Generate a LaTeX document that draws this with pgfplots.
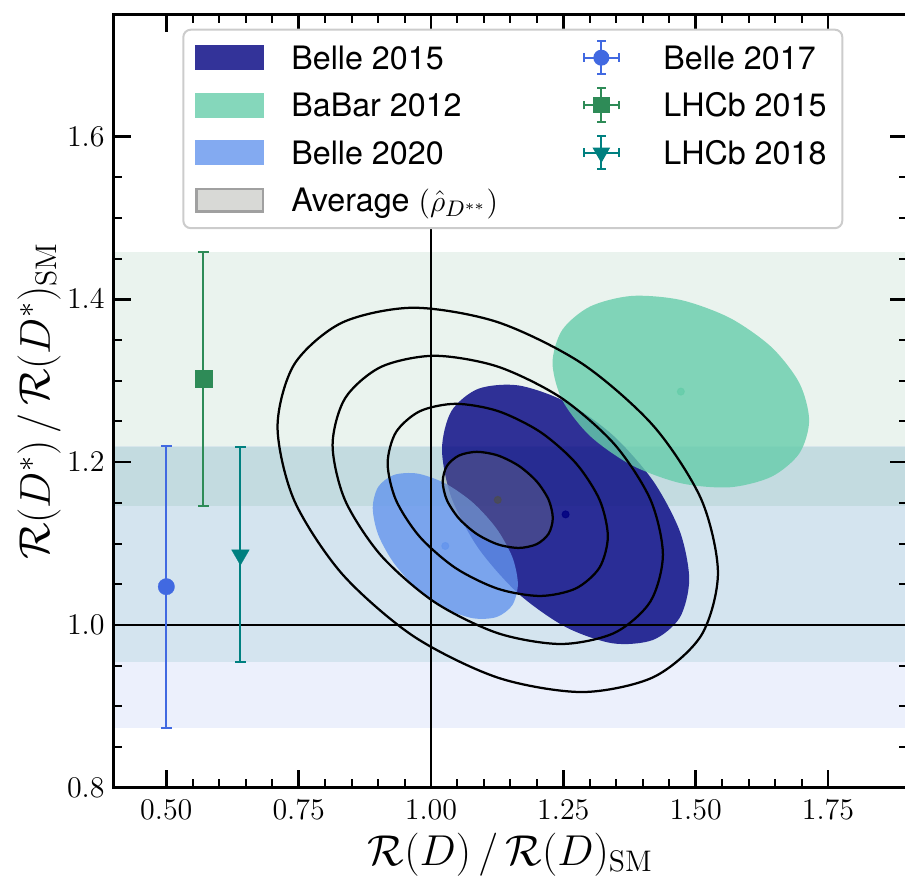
\documentclass[border=0pt]{standalone}
\usepackage{fontspec}
\setsansfont{TeX Gyre Heros}
\usepackage{pgfplots}
\pgfplotsset{compat=1.18}
\definecolor{navyc}{RGB}{0,0,128}
\definecolor{aquac}{RGB}{102,205,170}
\definecolor{cornc}{RGB}{100,149,237}
\definecolor{royalc}{RGB}{65,105,225}
\definecolor{seac}{RGB}{46,139,87}
\definecolor{tealc}{RGB}{0,128,128}
\definecolor{legnavy}{RGB}{51,51,153}
\definecolor{legaqua}{RGB}{133,215,187}
\definecolor{legcorn}{RGB}{131,170,241}
\definecolor{legavg}{RGB}{216,217,214}
\definecolor{legavgedge}{RGB}{160,160,160}
\begin{document}
\begin{tikzpicture}
\begin{axis}[
  scale only axis, width=317.6pt, height=309.4pt,
  xmin=0.4, xmax=1.9, ymin=0.8, ymax=1.75,
  xtick={0.5,0.75,1,1.25,1.5,1.75},
  ytick={0.8,1.0,1.2,1.4,1.6},
  minor x tick num=4, minor y tick num=3,
  x tick label style={/pgf/number format/fixed, /pgf/number format/fixed zerofill, /pgf/number format/precision=2, yshift=-1.6pt},
  y tick label style={/pgf/number format/fixed, /pgf/number format/fixed zerofill, /pgf/number format/precision=1},
  tick align=inside,
  major tick length=7pt, minor tick length=3.5pt,
  major tick style={black, line width=1pt}, minor tick style={black, line width=0.8pt},
  axis line style={line width=1.1pt},
  axis on top,
  tick label style={font=\fontsize{12}{14}\selectfont},
  xlabel={$\mathcal{R}(D)\,/\,\mathcal{R}(D)_{\mathrm{SM}}$},
  ylabel={$\mathcal{R}(D^*)\,/\,\mathcal{R}(D^*)_{\mathrm{SM}}$},
  every axis x label/.style={at={([yshift=-31pt]axis description cs:0.5,0)}, anchor=base, font=\fontsize{17}{20}\selectfont},
  every axis y label/.style={at={([xshift=-25.4pt]axis description cs:0,0.5)}, rotate=90, anchor=base, font=\fontsize{17}{20}\selectfont},
  legend columns=2,
  legend style={
    at={(0.0868,0.9814)}, anchor=north west,
    draw=black!20, line width=0.8pt, rounded corners=3pt, fill=white,
    inner xsep=4.8pt, inner ysep=1.7pt,
    font=\fontsize{12.9}{15}\selectfont\sffamily,
    nodes={inner sep=0pt, text height=14.1pt, text depth=4.9pt},
    cells={anchor=west},
    column sep=0pt, row sep=0pt,
  },
]
% horizontal bands
\addplot[forget plot, draw=none, fill=royalc, fill opacity=0.1] coordinates {(0.4,0.874) (1.9,0.874) (1.9,1.220) (0.4,1.220)};
\addplot[forget plot, draw=none, fill=tealc, fill opacity=0.1] coordinates {(0.4,0.954) (1.9,0.954) (1.9,1.218) (0.4,1.218)};
\addplot[forget plot, draw=none, fill=seac, fill opacity=0.1] coordinates {(0.4,1.146) (1.9,1.146) (1.9,1.458) (0.4,1.458)};
% Belle 2015
\addplot[forget plot, draw=none, fill=navyc, fill opacity=0.8, smooth cycle] coordinates {
(1.4878,1.0560) (1.4701,1.1150) (1.4194,1.1771) (1.3437,1.2330) (1.2543,1.2741) (1.1649,1.2942) (1.0892,1.2900) (1.0385,1.2626) (1.0208,1.2157) (1.0385,1.1566) (1.0892,1.0945) (1.1649,1.0386) (1.2543,0.9975) (1.3437,0.9774) (1.4194,0.9816) (1.4701,1.0091)};
\addplot[forget plot, only marks, navyc, opacity=0.8, mark=*, mark size=1.4pt] coordinates {(1.2543,1.1358)};
% BaBar 2012
\addplot[forget plot, draw=none, fill=aquac, fill opacity=0.8, smooth cycle] coordinates {
(1.7144,1.2512) (1.6960,1.2970) (1.6434,1.3411) (1.5648,1.3770) (1.4720,1.3991) (1.3792,1.4041) (1.3006,1.3911) (1.2480,1.3624) (1.2296,1.3220) (1.2480,1.2762) (1.3006,1.2321) (1.3792,1.1962) (1.4720,1.1741) (1.5648,1.1691) (1.6434,1.1821) (1.6960,1.2108)};
\addplot[forget plot, only marks, aquac, opacity=0.8, mark=*, mark size=1.4pt] coordinates {(1.472,1.2866)};
% Belle 2020
\addplot[forget plot, draw=none, fill=cornc, fill opacity=0.8, smooth cycle] coordinates {
(1.1641,1.0503) (1.1537,1.0832) (1.1239,1.1182) (1.0795,1.1500) (1.0270,1.1738) (0.9745,1.1859) (0.9301,1.1843) (0.9003,1.1696) (0.8899,1.1438) (0.9003,1.1108) (0.9301,1.0758) (0.9745,1.0440) (1.0270,1.0202) (1.0795,1.0082) (1.1239,1.0097) (1.1537,1.0244)};
\addplot[forget plot, only marks, cornc, opacity=0.8, mark=*, mark size=1.4pt] coordinates {(1.027,1.097)};
% reference lines
\addplot[forget plot, black, line width=0.8pt] coordinates {(0.4,1) (1.9,1)};
\addplot[forget plot, black, line width=0.8pt] coordinates {(1,0.8) (1,1.75)};
% average contours
\addplot[forget plot, black, line width=0.9pt, fill=gray, fill opacity=0.3, smooth cycle] coordinates {
(1.2301,1.1312) (1.2222,1.1538) (1.1996,1.1763) (1.1659,1.1954) (1.1261,1.2082) (1.0863,1.2126) (1.0526,1.2080) (1.0300,1.1952) (1.0221,1.1760) (1.0300,1.1534) (1.0526,1.1309) (1.0863,1.1118) (1.1261,1.0990) (1.1659,1.0946) (1.1996,1.0992) (1.2222,1.1120)};
\addplot[forget plot, black, line width=0.9pt, smooth cycle] coordinates {
(1.3341,1.1088) (1.3183,1.1540) (1.2732,1.1991) (1.2058,1.2373) (1.1261,1.2628) (1.0464,1.2716) (0.9790,1.2625) (0.9339,1.2368) (0.9181,1.1984) (0.9339,1.1532) (0.9790,1.1081) (1.0464,1.0699) (1.1261,1.0445) (1.2058,1.0356) (1.2732,1.0447) (1.3183,1.0704)};
\addplot[forget plot, black, line width=0.9pt, smooth cycle] coordinates {
(1.4381,1.0863) (1.4144,1.1542) (1.3467,1.2218) (1.2456,1.2791) (1.1261,1.3173) (1.0066,1.3306) (0.9055,1.3169) (0.8378,1.2785) (0.8141,1.2209) (0.8378,1.1530) (0.9055,1.0854) (1.0066,1.0281) (1.1261,0.9899) (1.2456,0.9766) (1.3467,0.9903) (1.4144,1.0287)};
\addplot[forget plot, black, line width=0.9pt, smooth cycle] coordinates {
(1.5421,1.0639) (1.5105,1.1544) (1.4202,1.2445) (1.2854,1.3210) (1.1261,1.3719) (0.9668,1.3896) (0.8320,1.3713) (0.7417,1.3201) (0.7101,1.2433) (0.7417,1.1528) (0.8320,1.0627) (0.9668,0.9862) (1.1261,0.9353) (1.2854,0.9176) (1.4202,0.9359) (1.5105,0.9871)};
\addplot[forget plot, only marks, gray!60!black, opacity=0.7, mark=*, mark size=1.4pt] coordinates {(1.1261,1.1536)};
% R(D*) only measurements
\addplot[forget plot, royalc, line width=0.8pt, mark=*, mark size=3.3pt, mark options={solid, fill=royalc, draw=royalc, line width=0.1pt},
  error bars/.cd, y dir=both, y explicit, error mark=-, error bar style={line width=0.8pt, draw=royalc}, error mark options={line width=0.8pt, mark size=2.2pt, draw=royalc, rotate=90}]
  coordinates {(0.50,1.047) +- (0,0.173)};
\addplot[forget plot, seac, line width=0.8pt, mark=square*, mark size=3.4pt, mark options={solid, fill=seac, draw=seac, line width=0.1pt},
  error bars/.cd, y dir=both, y explicit, error mark=-, error bar style={line width=0.8pt, draw=seac}, error mark options={line width=0.8pt, mark size=2.2pt, draw=seac, rotate=90}]
  coordinates {(0.57,1.302) +- (0,0.156)};
\addplot[forget plot, tealc, line width=0.8pt, mark=triangle*, mark size=4.1pt, mark options={solid, fill=tealc, draw=tealc, line width=0.1pt, rotate=180},
  error bars/.cd, y dir=both, y explicit, error mark=-, error bar style={line width=0.8pt, draw=tealc}, error mark options={line width=0.8pt, mark size=2.2pt, draw=tealc, rotate=90}]
  coordinates {(0.64,1.086) +- (0,0.132)};
% legend
\addlegendimage{legend image code/.code={\fill[sharp corners, draw=none, fill=legnavy] (0pt,-5pt) rectangle (27.6pt,5pt); \path (38pt,0pt);}}
\addlegendentry{\makebox[116.56pt][l]{Belle 2015}}
\addlegendimage{legend image code/.code={
  \draw[royalc, line width=0.8pt, sharp corners] (0pt,0pt) -- (14.1pt,0pt) (0pt,-1.7pt) -- (0pt,1.7pt) (14.1pt,-1.7pt) -- (14.1pt,1.7pt) (7.05pt,-6.7pt) -- (7.05pt,6.7pt) (5.35pt,-6.7pt) -- (8.75pt,-6.7pt) (5.35pt,6.7pt) -- (8.75pt,6.7pt);
  \fill[royalc, draw=none] (7.05pt,0pt) circle (3.2pt); \path (31.44pt,0pt);}}
\addlegendentry{\makebox[66.8pt][l]{Belle 2017}}
\addlegendimage{legend image code/.code={\fill[sharp corners, draw=none, fill=legaqua] (0pt,-5pt) rectangle (27.6pt,5pt); \path (38pt,0pt);}}
\addlegendentry{\makebox[116.56pt][l]{BaBar 2012}}
\addlegendimage{legend image code/.code={
  \draw[seac, line width=0.8pt, sharp corners] (0pt,0pt) -- (14.1pt,0pt) (0pt,-1.7pt) -- (0pt,1.7pt) (14.1pt,-1.7pt) -- (14.1pt,1.7pt) (7.05pt,-6.7pt) -- (7.05pt,6.7pt) (5.35pt,-6.7pt) -- (8.75pt,-6.7pt) (5.35pt,6.7pt) -- (8.75pt,6.7pt);
  \fill[seac, draw=none, sharp corners] (3.75pt,-3.3pt) rectangle (10.35pt,3.3pt); \path (31.44pt,0pt);}}
\addlegendentry{\makebox[66.8pt][l]{LHCb 2015}}
\addlegendimage{legend image code/.code={\fill[sharp corners, draw=none, fill=legcorn] (0pt,-5pt) rectangle (27.6pt,5pt); \path (38pt,0pt);}}
\addlegendentry{\makebox[116.56pt][l]{Belle 2020}}
\addlegendimage{legend image code/.code={
  \draw[tealc, line width=0.8pt, sharp corners] (0pt,0pt) -- (14.1pt,0pt) (0pt,-1.7pt) -- (0pt,1.7pt) (14.1pt,-1.7pt) -- (14.1pt,1.7pt) (7.05pt,-6.7pt) -- (7.05pt,6.7pt) (5.35pt,-6.7pt) -- (8.75pt,-6.7pt) (5.35pt,6.7pt) -- (8.75pt,6.7pt);
  \fill[tealc, draw=none, sharp corners] (7.05pt,-4.1pt) -- (3.5pt,2.05pt) -- (10.6pt,2.05pt) -- cycle; \path (31.44pt,0pt);}}
\addlegendentry{\makebox[66.8pt][l]{LHCb 2018}}
\addlegendimage{legend image code/.code={\draw[sharp corners, fill=legavg, draw=legavgedge, line width=0.9pt] (0.45pt,-4.55pt) rectangle (27.15pt,4.55pt); \path (38pt,0pt);}}
\addlegendentry{\makebox[116.56pt][l]{Average $(\hat{\rho}_{D^{**}})$}}
\end{axis}
\pgfresetboundingbox
\path (current axis.south west) ++(-45.36pt,-35.28pt) rectangle ++(362pt,350.4pt);
\end{tikzpicture}
\end{document}
